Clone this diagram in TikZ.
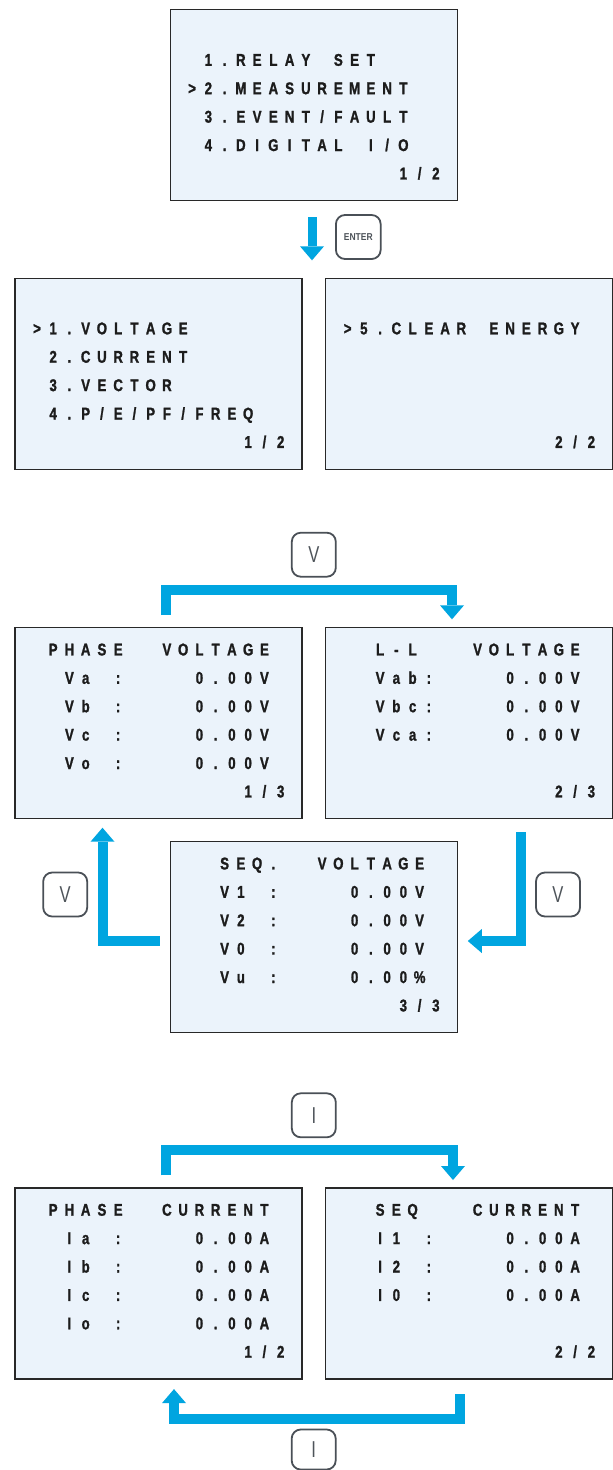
\documentclass[tikz,border=0pt]{standalone}
\usepackage{fontspec}
\usetikzlibrary{arrows.meta,calc}

\newfontfamily\lcdfont{Liberation Sans}[FakeStretch=0.78, BoldFeatures={FakeBold=1.3}]
\newfontfamily\keyfont{Liberation Sans}[FakeStretch=0.72]
\newfontfamily\enterfont{Liberation Sans}[FakeStretch=0.85]

\definecolor{screenfill}{RGB}{235,243,251}
\definecolor{screenline}{RGB}{40,40,40}
\definecolor{lcdink}{RGB}{28,28,28}
\definecolor{flowblue}{RGB}{0,165,224}
\definecolor{keyline}{RGB}{74,80,87}
\definecolor{keyink}{RGB}{78,84,90}

% fixed-pitch character cells of the LCD; ~ marks an empty cell
\newlength\lcdpitch
\setlength\lcdpitch{16.25pt}
\def\lcdstop{LCDSTOP}
\newcommand\lcd[1]{\lcdloop#1\lcdstop}
\def\lcdloop#1{\ifx#1\lcdstop\else\ifx#1~\hspace*{\lcdpitch}\else\makebox[\lcdpitch][c]{#1}\fi\expandafter\lcdloop\fi}

% one text line: screen name, row (0-5), first column (0-15), characters
\newcommand\lcdline[4]{%
  \node[lcdtext] (#1-#2) at ($(#1.north west)+({14.3+16.25*#3},{28.4+28.4*#2})$) {\lcd{#4}};}

\tikzset{
  screen/.style={draw=screenline, fill=screenfill, line width=1.3pt,
    minimum width=287pt, minimum height=191pt, inner sep=0pt, anchor=north west},
  lcdtext/.style={anchor=base west, inner sep=0pt, text=lcdink,
    font=\lcdfont\bfseries\fontsize{17}{17}\selectfont},
  keybox/.style={draw=keyline, fill=white, line width=1.8pt, rounded corners=9pt,
    minimum width=44pt, minimum height=44pt, inner sep=0pt, text=keyink,
    font=\keyfont\fontsize{23}{23}\selectfont},
  flow/.style={draw=flowblue, line width=10pt, line join=miter,
    -{Triangle[width=24pt,length=14pt,line width=0pt]}}
}

\begin{document}
\begin{tikzpicture}[x=1pt,y=-1pt]
\fill[white] (0,0) rectangle (613,1470);
\useasboundingbox (0,0) rectangle (613,1470);

% ---- main menu ----
\node[screen] (menu) at (169.5,9) {};
\lcdline{menu}{1}{1}{1.RELAY~SET}
\lcdline{menu}{2}{0}{>2.MEASUREMENT}
\lcdline{menu}{3}{1}{3.EVENT/FAULT}
\lcdline{menu}{4}{1}{4.DIGITAL~I/O}
\lcdline{menu}{5}{13}{1/2}

\node[keybox, minimum width=44.7pt, font=\enterfont\bfseries\fontsize{10}{10}\selectfont]
  (kenter) at (358.3,237) {ENTER};
\coordinate (entA) at ($(menu.south west)+(142.5,16)$);
\coordinate (entB) at ($(menu.south west)+(142.5,59)$);
\draw[flow, line width=9pt] (entA) -- (entB);

% ---- measurement menu ----
\node[screen] (mA) at (14.3,277.5) {};
\lcdline{mA}{1}{0}{>1.VOLTAGE}
\lcdline{mA}{2}{1}{2.CURRENT}
\lcdline{mA}{3}{1}{3.VECTOR}
\lcdline{mA}{4}{1}{4.P/E/PF/FREQ}
\lcdline{mA}{5}{13}{1/2}

\node[screen] (mB) at (325,277.5) {};
\lcdline{mB}{1}{0}{>5.CLEAR~ENERGY}
\lcdline{mB}{5}{13}{2/2}

% ---- voltage pages ----
\node[screen] (pv) at (14.3,627) {};
\lcdline{pv}{0}{1}{PHASE~~VOLTAGE}
\lcdline{pv}{1}{2}{Va~:~~~~0.00V}
\lcdline{pv}{2}{2}{Vb~:~~~~0.00V}
\lcdline{pv}{3}{2}{Vc~:~~~~0.00V}
\lcdline{pv}{4}{2}{Vo~:~~~~0.00V}
\lcdline{pv}{5}{13}{1/3}

\node[screen] (llv) at (325,627) {};
\lcdline{llv}{0}{2}{L-L~~~VOLTAGE}
\lcdline{llv}{1}{2}{Vab:~~~~0.00V}
\lcdline{llv}{2}{2}{Vbc:~~~~0.00V}
\lcdline{llv}{3}{2}{Vca:~~~~0.00V}
\lcdline{llv}{5}{13}{2/3}

\node[screen] (sv) at (169.5,841) {};
\lcdline{sv}{0}{2}{SEQ.~~VOLTAGE}
\lcdline{sv}{1}{2}{V1~:~~~~0.00V}
\lcdline{sv}{2}{2}{V2~:~~~~0.00V}
\lcdline{sv}{3}{2}{V0~:~~~~0.00V}
\lcdline{sv}{4}{2}{Vu~:~~~~0.00\%}
\lcdline{sv}{5}{13}{3/3}

\node[keybox] (kvtop) at (313.8,554.7) {V};
\node[keybox] (kvleft) at (65.2,894.5) {V};
\node[keybox] (kvright) at (558,894.5) {V};

\coordinate (vtA) at ($(pv.north west)+(151.7,-12)$);
\coordinate (vtB) at ($(llv.north west)+(127,-7.7)$);
\draw[flow] (vtA) -- ++(0,-25) -| (vtB);

\coordinate (vrA) at ($(llv.south west)+(196,12.7)$);
\coordinate (vrB) at ($(sv.north east)+(10,100)$);
\draw[flow] (vrA) |- (vrB);

\coordinate (vlA) at ($(sv.north west)+(-10,100)$);
\coordinate (vlB) at ($(pv.south west)+(88.2,8.4)$);
\draw[flow] (vlA) -| (vlB);

% ---- current pages ----
\node[screen] (pc) at (14.3,1187.3) {};
\lcdline{pc}{0}{1}{PHASE~~CURRENT}
\lcdline{pc}{1}{2}{Ia~:~~~~0.00A}
\lcdline{pc}{2}{2}{Ib~:~~~~0.00A}
\lcdline{pc}{3}{2}{Ic~:~~~~0.00A}
\lcdline{pc}{4}{2}{Io~:~~~~0.00A}
\lcdline{pc}{5}{13}{1/2}

\node[screen] (sc) at (325,1187.3) {};
\lcdline{sc}{0}{2}{SEQ~~~CURRENT}
\lcdline{sc}{1}{2}{I1~:~~~~0.00A}
\lcdline{sc}{2}{2}{I2~:~~~~0.00A}
\lcdline{sc}{3}{2}{I0~:~~~~0.00A}
\lcdline{sc}{5}{13}{2/2}

\node[keybox] (kitop) at (313.8,1115.3) {I};
\node[keybox, minimum height=40pt] (kibot) at (313.7,1449.5) {I};

\coordinate (itA) at ($(pc.north west)+(151.7,-12)$);
\coordinate (itB) at ($(sc.north west)+(128,-7.3)$);
\draw[flow] (itA) -- ++(0,-25) -| (itB);

\coordinate (ibA) at ($(sc.south west)+(135.3,14.5)$);
\coordinate (ibB) at ($(pc.south west)+(159.7,9.5)$);
\draw[flow] (ibA) -- ++(0,24.4) -| (ibB);
\end{tikzpicture}
\end{document}
